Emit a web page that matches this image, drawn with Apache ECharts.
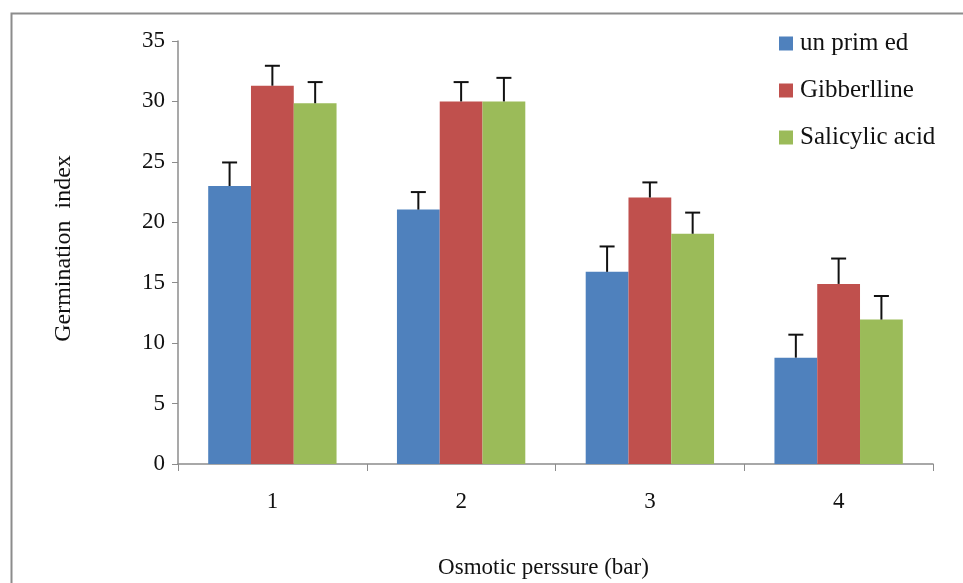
<!DOCTYPE html>
<html><head><meta charset="utf-8">
<script src="https://cdn.jsdelivr.net/npm/echarts@6/dist/echarts.min.js"></script>
<style>html,body{margin:0;padding:0;background:#fff;overflow:hidden}#c{width:963px;height:583px}</style>
</head><body><div id="c"></div>
<script>
const categories = ['1','2','3','4'];
const seriesNames = ['un prim ed','Gibberlline','Salicylic acid'];
const unprimed = [23.0, 21.05, 15.9, 8.8];
const gibberlline = [31.3, 30.0, 22.05, 14.9];
const salicylic = [29.85, 30.0, 19.05, 11.95];
const unprimedErr = [1.95, 1.45, 2.1, 1.9];
const gibberllineErr = [1.65, 1.6, 1.25, 2.1];
const salicylicErr = [1.75, 1.95, 1.75, 1.95];
const colors = ['#4F81BD','#C0504D','#9BBB59'];
const values = [unprimed, gibberlline, salicylic];
const errs = [unprimedErr, gibberllineErr, salicylicErr];
const gapRatio = 0.32;
const font = '"Liberation Serif","Times New Roman",serif';

const chart = echarts.init(document.getElementById('c'));
const series = [];
values.forEach((vals, i) => {
  series.push({
    name: seriesNames[i], type: 'bar', data: vals,
    barGap: '0%', barCategoryGap: (gapRatio*100)+'%',
    itemStyle: {color: colors[i]}, z: 2
  });
});
values.forEach((vals, i) => {
  series.push({
    type: 'custom', name: 'err' + i, z: 5,
    data: vals.map((v, k) => [k, v, v + errs[i][k]]),
    renderItem: function (params, api) {
      const k = api.value(0);
      const catW = api.size([1, 0])[0];
      const bw = catW * (1 - gapRatio) / 3;
      const base = api.coord([k, api.value(1)]);
      const top = api.coord([k, api.value(2)]);
      const x = base[0] + (i - 1) * bw;
      const half = 7.5;
      return {
        type: 'group',
        children: [
          {type: 'line', shape: {x1: x, y1: base[1], x2: x, y2: top[1]}, style: {stroke: '#111', lineWidth: 2}},
          {type: 'line', shape: {x1: x - half, y1: top[1], x2: x + half, y2: top[1]}, style: {stroke: '#111', lineWidth: 2}}
        ]
      };
    },
    encode: {x: 0, y: [1, 2]}
  });
});

chart.setOption({
  animation: false,
  backgroundColor: '#fff',
  textStyle: {fontFamily: font},
  graphic: [{
    type: 'rect', left: 9, top: 11, shape: {width: 1000, height: 1000},
    style: {fill: 'none', stroke: '#8c8c8c', lineWidth: 2}, silent: true
  }],
  grid: {left: 178, width: 755, top: 41, height: 423, containLabel: false, outerBoundsMode: 'none'},
  legend: {
    data: seriesNames, orient: 'vertical', left: 774, top: 26,
    icon: 'rect', itemWidth: 14, itemHeight: 14, itemGap: 22,
    textStyle: {fontFamily: font, fontSize: 25, color: '#111', padding: [0, 0, 0, 2]}
  },
  xAxis: {
    type: 'category', data: categories,
    name: 'Osmotic perssure (bar)', nameLocation: 'middle', nameGap: 92,
    nameTextStyle: {fontFamily: font, fontSize: 23, color: '#111', padding: [0, 24, 0, 0]},
    axisLine: {lineStyle: {color: '#8c8c8c', width: 1.5}},
    axisTick: {show: true, length: 7, alignWithLabel: false, lineStyle: {color: '#8c8c8c'}},
    axisLabel: {fontFamily: font, fontSize: 23, color: '#111', margin: 26}
  },
  yAxis: {
    type: 'value', min: 0, max: 35, interval: 5,
    name: 'Germination  index', nameLocation: 'middle', nameGap: 102, nameRotate: 90,
    nameTextStyle: {fontFamily: font, fontSize: 24, color: '#111', padding: [0, 0, 0, 8]},
    axisLine: {show: true, lineStyle: {color: '#8c8c8c', width: 1.5}},
    axisTick: {show: true, length: 6, lineStyle: {color: '#8c8c8c'}},
    splitLine: {show: false},
    axisLabel: {fontFamily: font, fontSize: 23, color: '#111', margin: 13}
  },
  series: series
});
</script></body></html>
